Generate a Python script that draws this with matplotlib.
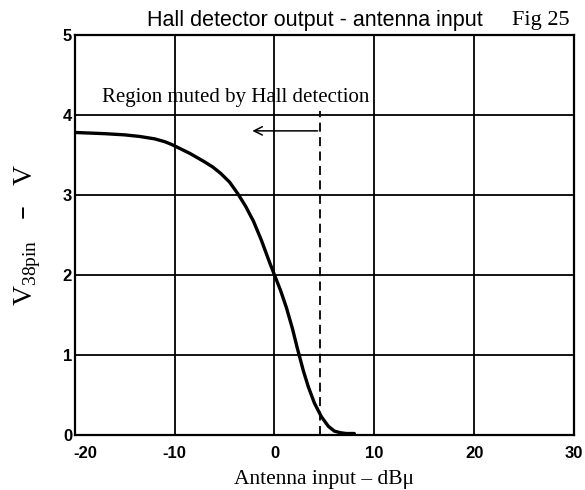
import matplotlib
matplotlib.use("Agg")
import matplotlib.pyplot as plt
import matplotlib.transforms as mtransforms

# Curve: antenna input (dBu) vs V38pin (V)
ant_in = [-20, -17, -15, -13.5, -12, -11, -10.3, -9.4, -8.5, -7.8, -7.1, -6.2,
          -5.4, -4.5, -3.7, -2.9, -2.1, -1.3, -0.5, 0, 0.6, 1.2, 1.8, 2.3,
          2.9, 3.4, 4.0, 4.7, 5.4, 6.0, 6.6, 7.2, 8.0]
v38 = [3.78, 3.765, 3.75, 3.73, 3.70, 3.665, 3.63, 3.575, 3.52, 3.47, 3.42,
       3.35, 3.27, 3.16, 3.02, 2.86, 2.67, 2.43, 2.16, 2.0, 1.81, 1.59, 1.33,
       1.08, 0.80, 0.60, 0.40, 0.23, 0.11, 0.05, 0.03, 0.02, 0.02]

mute_x = 4.6
arrow_tip = -2.5
arrow_y = 3.8

x_ticks = [-20, -10, 0, 10, 20, 30]
y_ticks = [0, 1, 2, 3, 4, 5]

serif = "Liberation Serif"
sans = "Liberation Sans"
plt.rcParams["axes.unicode_minus"] = False

fig = plt.figure(figsize=(5.85, 4.9), dpi=100)
ax = fig.add_axes([0.128, 0.112, 0.853, 0.817])

ax.plot(ant_in, v38, color="black", lw=2.4, solid_capstyle="round",
        solid_joinstyle="round")
ax.plot([mute_x, mute_x], [0, 4.05], color="black", lw=1.3, ls=(0, (5, 3)))
ax.annotate("", xy=(arrow_tip, arrow_y), xytext=(mute_x, arrow_y),
            arrowprops=dict(arrowstyle="->", color="black", lw=1.1,
                            mutation_scale=15))
ax.text(-17.3, 4.16, "Region muted by Hall detection", family=serif,
        fontsize=15, va="baseline", ha="left")

ax.set_xlim(-20, 30)
ax.set_ylim(0, 5)
ax.set_xticks(x_ticks)
ax.set_yticks(y_ticks)
ax.tick_params(axis="x", length=0, pad=8)
ax.tick_params(axis="y", length=0, pad=2)
for lab in ax.get_xticklabels() + ax.get_yticklabels():
    lab.set_family(sans)
    lab.set_fontweight("bold")
    lab.set_fontsize(12)
# first x label sits a little to the right, clear of the "0"
first = ax.get_xticklabels()[0]
first.set_transform(first.get_transform() +
                    mtransforms.ScaledTranslation(10 / 100, 0, fig.dpi_scale_trans))
ax.grid(True, color="black", lw=1.3)
for s in ax.spines.values():
    s.set_linewidth(1.6)

ax.set_xlabel("Antenna input – dBμ", family=serif, fontsize=15.5, labelpad=6)
ax.set_ylabel(r"V$_{\mathregular{38pin}}$   –   V", family=serif,
              fontsize=20, labelpad=14)

fig.text(0.251, 0.959, "Hall detector output - antenna input", family=sans,
         fontsize=15.5, va="center", ha="left")
fig.text(0.974, 0.959, "Fig 25", family=serif, fontsize=16, va="center",
         ha="right")

fig.savefig("out.png", dpi=100)
